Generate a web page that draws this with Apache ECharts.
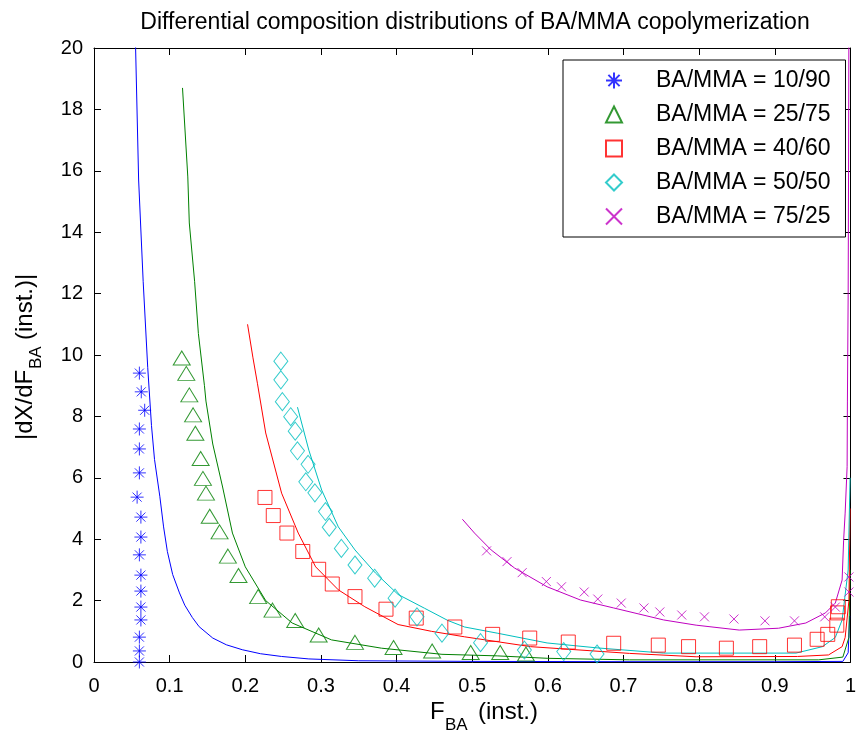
<!DOCTYPE html>
<html>
<head>
<meta charset="utf-8">
<script src="https://cdn.jsdelivr.net/npm/echarts@6/dist/echarts.min.js"></script>
<style>
  body { margin: 0; background: #fff; }
  #chart { width: 859px; height: 734px; }
</style>
</head>
<body>
<div id="chart"></div>
<script>
// tick labels
const xTickLabels = ['0', '0.1', '0.2', '0.3', '0.4', '0.5', '0.6', '0.7', '0.8', '0.9', '1'];
const yTickLabels = ['0', '2', '4', '6', '8', '10', '12', '14', '16', '18', '20'];

const seriesNames = ['BA/MMA = 10/90', 'BA/MMA = 25/75', 'BA/MMA = 40/60', 'BA/MMA = 50/50', 'BA/MMA = 75/25'];

// measured points [F_BA, |dX/dF_BA|]
const pts1090 = [[0.06, 9.41], [0.0625, 8.8], [0.067, 8.2], [0.06, 7.59], [0.06, 6.94], [0.06, 6.16], [0.057, 5.37],
  [0.062, 4.72], [0.062, 4.07], [0.06, 3.49], [0.062, 2.83], [0.062, 2.31], [0.062, 1.79], [0.062, 1.37],
  [0.06, 0.81], [0.06, 0.36], [0.06, 0.0]];
const pts2575 = [[0.116, 9.9], [0.122, 9.4], [0.126, 8.7], [0.131, 8.05], [0.134, 7.45], [0.141, 6.63], [0.144, 5.98],
  [0.148, 5.5], [0.153, 4.75], [0.166, 4.24], [0.177, 3.45], [0.191, 2.82], [0.217, 2.13], [0.236, 1.69],
  [0.266, 1.35], [0.297, 0.88], [0.345, 0.64], [0.396, 0.47], [0.447, 0.36], [0.498, 0.31], [0.537, 0.31], [0.571, 0.26]];
const pts4060 = [[0.226, 5.36], [0.237, 4.77], [0.255, 4.2], [0.276, 3.6], [0.297, 3.02], [0.315, 2.54], [0.345, 2.13],
  [0.386, 1.72], [0.426, 1.43], [0.477, 1.14], [0.527, 0.9], [0.576, 0.78], [0.627, 0.65], [0.687, 0.61],
  [0.746, 0.55], [0.786, 0.5], [0.836, 0.45], [0.88, 0.5], [0.926, 0.55], [0.956, 0.74], [0.97, 0.9],
  [0.982, 1.2], [0.983, 1.6], [0.984, 1.8]];
const pts5050 = [[0.247, 9.8], [0.247, 9.19], [0.249, 8.48], [0.26, 7.99], [0.266, 7.52], [0.269, 6.88], [0.283, 6.44],
  [0.28, 5.87], [0.292, 5.51], [0.306, 4.9], [0.311, 4.39], [0.327, 3.7], [0.345, 3.16], [0.371, 2.73],
  [0.398, 2.08], [0.427, 1.47], [0.46, 0.94], [0.511, 0.63], [0.569, 0.39], [0.621, 0.34], [0.665, 0.26]];
const pts7525 = [[0.519, 3.62], [0.546, 3.27], [0.566, 2.91], [0.598, 2.62], [0.618, 2.45], [0.648, 2.28], [0.666, 2.05],
  [0.697, 1.92], [0.727, 1.76], [0.748, 1.63], [0.777, 1.53], [0.807, 1.47], [0.846, 1.4], [0.887, 1.34],
  [0.926, 1.34], [0.966, 1.47], [0.98, 1.79], [0.998, 2.28], [0.998, 2.77]];

// model curves
const line1090 = [[0.054, 22], [0.055, 20], [0.059, 15.7], [0.065, 12.4], [0.071, 9.6], [0.076, 7.7], [0.08, 6.6],
  [0.087, 5.4], [0.092, 4.4], [0.097, 3.6], [0.104, 2.85], [0.113, 2.25], [0.12, 1.85], [0.13, 1.45],
  [0.139, 1.15], [0.157, 0.78], [0.175, 0.56], [0.196, 0.4], [0.22, 0.27], [0.248, 0.18], [0.284, 0.1],
  [0.35, 0.04], [0.5, 0.02], [0.7, 0.01], [0.9, 0.01], [0.99, 0.02], [0.997, 0.3], [0.999, 1.5]];
const line2575 = [[0.117, 18.7], [0.124, 15.8], [0.126, 14.3], [0.133, 12.4], [0.138, 10.7], [0.146, 9.0], [0.148, 8.5],
  [0.157, 7.1], [0.17, 5.7], [0.183, 4.2], [0.2, 3.1], [0.227, 2.0], [0.262, 1.27], [0.314, 0.72], [0.38, 0.45],
  [0.46, 0.25], [0.533, 0.2], [0.6, 0.12], [0.708, 0.07], [0.958, 0.07], [0.99, 0.16], [0.998, 0.8], [0.9995, 3]];
const line4060 = [[0.203, 11.0], [0.21, 9.93], [0.216, 9.08], [0.227, 7.46], [0.248, 5.5], [0.27, 4.2], [0.293, 3.1],
  [0.323, 2.35], [0.358, 1.8], [0.402, 1.22], [0.446, 1.0], [0.49, 0.82], [0.577, 0.5], [0.708, 0.28],
  [0.796, 0.17], [0.93, 0.18], [0.971, 0.23], [0.989, 0.5], [0.993, 0.8], [0.998, 2], [0.9995, 5]];
const line5050 = [[0.269, 8.3], [0.284, 6.9], [0.301, 5.6], [0.323, 4.4], [0.345, 3.65], [0.372, 2.9], [0.402, 2.2],
  [0.437, 1.75], [0.468, 1.35], [0.49, 1.14], [0.533, 0.94], [0.599, 0.62], [0.665, 0.46], [0.753, 0.29],
  [0.928, 0.29], [0.963, 0.5], [0.98, 0.8], [0.989, 1.37], [0.997, 3], [0.9995, 6]];
const line7525 = [[0.487, 4.65], [0.503, 4.2], [0.525, 3.65], [0.556, 3.06], [0.599, 2.45], [0.643, 2.02], [0.687, 1.76],
  [0.753, 1.37], [0.796, 1.2], [0.853, 1.04], [0.905, 1.1], [0.941, 1.27], [0.967, 1.6], [0.98, 1.92],
  [0.989, 2.67], [0.991, 3.97], [0.993, 4.85], [0.9956, 6.36], [0.996, 8.5], [0.997, 12], [0.9975, 16], [0.998, 21]];

const colors = ['#0000ff', '#008000', '#ff0000', '#00bfbf', '#bf00bf'];

const asterisk = 'path://M5,0L5,10M0,5L10,5M1.5,1.5L8.5,8.5M1.5,8.5L8.5,1.5';
const cross = 'path://M0,0L10,10M0,10L10,0';

const myChart = echarts.init(document.getElementById('chart'));

const markerSeries = (name, data, color, symbol, size) => ({
  name: name,
  type: 'scatter',
  data: data,
  symbol: symbol,
  symbolSize: size,
  itemStyle: { color: 'transparent', borderColor: color, borderWidth: 1 },
  z: 3
});
const curveSeries = (data, color) => ({
  name: 'model',
  type: 'line',
  data: data,
  showSymbol: false,
  symbol: 'none',
  lineStyle: { color: color, width: 1 },
  z: 2
});

const axisCommon = {
  axisLine: { show: true, onZero: false, lineStyle: { color: '#000', width: 1 } },
  axisTick: { show: true, inside: true, length: 7, lineStyle: { color: '#000' } },
  splitLine: { show: false }
};

const labelFont = { fontSize: 24, fill: '#000', fontFamily: 'Liberation Sans, Arial, sans-serif' };
const subFont = { fontSize: 17, fill: '#000', fontFamily: 'Liberation Sans, Arial, sans-serif' };

myChart.setOption({
  animation: false,
  backgroundColor: '#fff',
  textStyle: { fontFamily: 'Liberation Sans, Arial, sans-serif' },
  title: {
    text: 'Differential composition distributions of BA/MMA copolymerization',
    left: 470,
    textAlign: 'center',
    top: 6,
    textStyle: { fontSize: 23, fontWeight: 'normal', color: '#000' }
  },
  grid: { left: 94, right: 4, top: 48, bottom: 72, containLabel: false },
  legend: {
    data: seriesNames,
    orient: 'vertical',
    left: 563,
    top: 60,
    padding: [9, 15, 9, 42],
    itemWidth: 16,
    itemHeight: 16,
    itemGap: 11,
    selectedMode: false,
    borderColor: '#000',
    borderWidth: 1,
    backgroundColor: '#fff',
    textStyle: { fontSize: 23, color: '#000', padding: [0, 0, 0, 29] }
  },
  // axis titles with subscripts
  graphic: [
    { type: 'text', x: 430, y: 712, style: Object.assign({ text: 'F', verticalAlign: 'middle' }, labelFont) },
    { type: 'text', x: 445, y: 725, style: Object.assign({ text: 'BA', verticalAlign: 'middle' }, subFont) },
    { type: 'text', x: 478, y: 712, style: Object.assign({ text: '(inst.)', verticalAlign: 'middle' }, labelFont) },
    {
      type: 'group', x: 25, y: 440, rotation: Math.PI / 2,
      children: [
        { type: 'text', x: 0, y: 0, style: Object.assign({ text: '|dX/dF', verticalAlign: 'middle' }, labelFont) },
        { type: 'text', x: 71, y: 11, style: Object.assign({ text: 'BA', verticalAlign: 'middle' }, subFont) },
        { type: 'text', x: 100, y: 0, style: Object.assign({ text: '(inst.)|', verticalAlign: 'middle' }, labelFont) }
      ]
    }
  ],
  xAxis: [
    Object.assign({
      type: 'value', min: 0, max: 1, interval: 0.1, position: 'bottom',
      axisLabel: {
        fontSize: 20, color: '#000', margin: 14,
        formatter: v => xTickLabels[Math.round(v * 10)]
      }
    }, axisCommon),
    Object.assign({
      type: 'value', min: 0, max: 1, interval: 0.1, position: 'top',
      axisLabel: { show: false }
    }, axisCommon)
  ],
  yAxis: [
    Object.assign({
      type: 'value', min: 0, max: 20, interval: 2, position: 'left',
      axisLabel: {
        fontSize: 20, color: '#000', margin: 11,
        formatter: v => yTickLabels[Math.round(v / 2)]
      }
    }, axisCommon),
    Object.assign({
      type: 'value', min: 0, max: 20, interval: 2, position: 'right',
      axisLabel: { show: false }
    }, axisCommon)
  ],
  series: [
    curveSeries(line1090, colors[0]),
    curveSeries(line2575, colors[1]),
    curveSeries(line4060, colors[2]),
    curveSeries(line5050, colors[3]),
    curveSeries(line7525, colors[4]),
    markerSeries(seriesNames[0], pts1090, colors[0], asterisk, 13),
    markerSeries(seriesNames[1], pts2575, colors[1], 'triangle', [17, 14]),
    markerSeries(seriesNames[2], pts4060, colors[2], 'rect', 14),
    markerSeries(seriesNames[3], pts5050, colors[3], 'diamond', [14, 18]),
    markerSeries(seriesNames[4], pts7525, colors[4], cross, 9)
  ]
});
</script>
</body>
</html>
